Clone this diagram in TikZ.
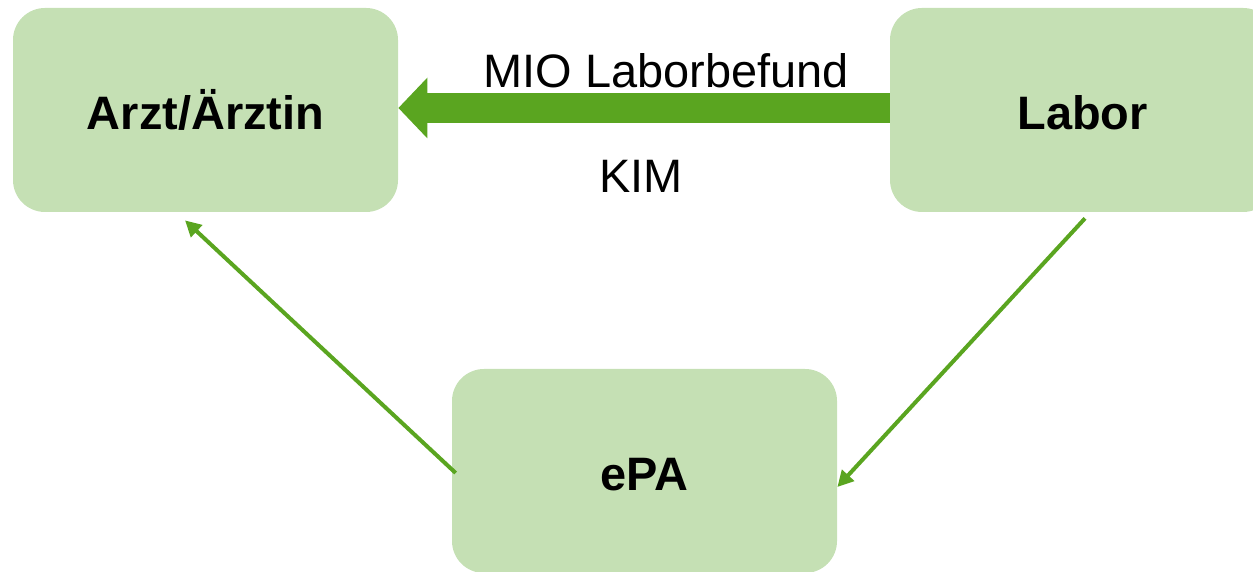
\documentclass[tikz,border=0pt]{standalone}
\usepackage{fontspec}
\setmainfont{Liberation Sans}
\usepackage{xcolor}
\usepackage{tikz}
\usetikzlibrary{arrows.meta, positioning, calc}

\definecolor{boxgreen}{RGB}{197,224,180}
\definecolor{arrowgreen}{RGB}{90,165,32}

\begin{document}
\begin{tikzpicture}[
  % Rounded party boxes
  party/.style={rectangle, rounded corners=0.64cm, fill=boxgreen, draw=none,
                minimum width=7.70cm, minimum height=4.08cm,
                text height=0.79cm, text depth=0cm,
                font=\fontsize{26.7}{32}\selectfont\bfseries, align=center},
  % Labels above/below the main transfer arrow
  flowlabel/.style={font=\fontsize{26.7}{32}\selectfont, anchor=base},
  bigarrow/.style={draw=arrowgreen, line width=0.60cm,
                   -{Triangle[length=0.58cm, width=1.18cm]}},
  thinarrow/.style={draw=arrowgreen, line width=0.08cm,
                    -{Triangle[length=0.32cm, width=0.32cm]}}
]

\useasboundingbox (0,0) rectangle (25.06,11.44);
\clip (0,0) rectangle (25.06,11.44);

%% ── Parties ──────────────────────────────────────────────
\node[party] (arzt)  at ( 4.11, 9.24) {Arzt/Ärztin};
\node[party] (labor) at (21.65, 9.24) {Labor};
\node[party] (epa)   at (12.89, 2.02) {ePA};

%% ── Direct transfer via KIM ──────────────────────────────
\draw[bigarrow] ($(labor.west)+(0,0.04)$) -- ($(arzt.east)+(0,0.04)$);
\node[flowlabel] (mio) at (13.32, 9.68) {MIO Laborbefund};
\node[flowlabel] (kim) at (12.82, 7.58) {KIM};

%% ── Path through the ePA ─────────────────────────────────
\draw[thinarrow] ($(labor.south)+(0.05,-0.12)$) -- ($(epa.east)+(0,-0.32)$);
\draw[thinarrow] ($(epa.west)+(0.08,-0.04)$)   -- ($(arzt.south)+(-0.41,-0.16)$);

\end{tikzpicture}
\end{document}
